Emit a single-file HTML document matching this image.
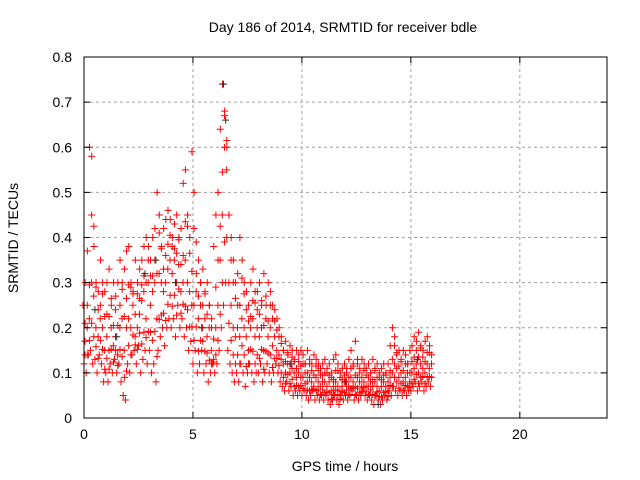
<!DOCTYPE html>
<html><head><meta charset="utf-8"><style>
html,body{margin:0;padding:0;background:#fff;}
svg{display:block;font-family:"Liberation Sans",sans-serif;}
</style></head><body>
<svg id="chart" width="640" height="480" viewBox="0 0 640 480">
<rect x="0" y="0" width="640" height="480" fill="#fff"/>
<text x="343" y="32" font-size="14" text-anchor="middle">Day 186 of 2014, SRMTID for receiver bdle</text>
<text x="345" y="471" font-size="14" text-anchor="middle">GPS time / hours</text>
<text x="18" y="238" font-size="14" text-anchor="middle" transform="rotate(-90 18 238)">SRMTID / TECUs</text>
<g id="grid"></g><g id="marks"></g><g id="axes"></g>
</svg>
<script>
const times=[0.0,0.1,0.2,0.3,0.4,0.5,0.6,0.7,0.8,0.9,1.0,1.1,1.2,1.3,1.4,1.5,1.6,1.7,1.8,1.9,2.0,2.1,2.2,2.3,2.4,2.5,2.6,2.7,2.8,2.9,3.0,3.1,3.2,3.3,3.4,3.5,3.6,3.7,3.8,3.9,4.0,4.1,4.2,4.3,4.4,4.5,4.6,4.7,4.8,4.9,5.0,5.1,5.2,5.3,5.4,5.5,5.6,5.7,5.8,5.9,6.0,6.1,6.2,6.3,6.4,6.5,6.6,6.7,6.8,6.9,7.0,7.1,7.2,7.3,7.4,7.5,7.6,7.7,7.8,7.9,8.0,8.1,8.2,8.3,8.4,8.5,8.6,8.7,8.8,8.9,9.0,9.1,9.2,9.3,9.4,9.5,9.6,9.7,9.8,9.9,10.0,10.1,10.2,10.3,10.4,10.5,10.6,10.7,10.8,10.9,11.0,11.1,11.2,11.3,11.4,11.5,11.6,11.7,11.8,11.9,12.0,12.1,12.2,12.3,12.4,12.5,12.6,12.7,12.8,12.9,13.0,13.1,13.2,13.3,13.4,13.5,13.6,13.7,13.8,13.9,14.0,14.1,14.2,14.3,14.4,14.5,14.6,14.7,14.8,14.9,15.0,15.1,15.2,15.3,15.4,15.5,15.6,15.7,15.8,15.9];
const vHigh=[.25,.3,.37,.6,.58,.38,.3,.28,.35,.3, .28,.3,.33,.25,.3,.27,.3,.35,.3,.33, .37,.38,.3,.28,.35,.3,.33,.35,.38,.4, .38,.35,.4,.42,.5,.45,.38,.42,.44,.46, .44,.4,.43,.45,.4,.42,.52,.55,.45,.4, .59,.5,.32,.35,.3,.33,.28,.3,.25,.22, .38,.45,.5,.64,.74,.68,.6,.45,.4,.35, .3,.32,.4,.35,.3,.28,.25,.3,.33,.28, .28,.3,.26,.32,.25,.3,.28,.25,.24,.22, .2,.18,.15,.17,.14,.16,.15,.13,.15,.14, .15,.14,.12,.15,.13,.12,.14,.13,.12,.11, .12,.13,.11,.12,.1,.13,.14,.12,.1,.11, .12,.11,.13,.15,.12,.17,.12,.11,.13,.12, .11,.12,.1,.13,.11,.12,.1,.11,.12,.1, .12,.16,.2,.18,.14,.15,.13,.15,.14,.12, .15,.16,.18,.17,.19,.16,.15,.17,.18,.16];
const vMid=[.17,.2,.22,.3,.27,.2,.18,.22,.2,.15, .18,.15,.2,.16,.18,.14,.2,.22,.15,.2, .22,.2,.25,.18,.2,.23,.26,.28,.22,.3, .25,.28,.3,.22,.32,.3,.28,.3,.33,.35, .32,.35,.3,.34,.28,.3,.35,.3,.28,.25, .25,.28,.22,.25,.2,.22,.18,.2,.15,.13, .2,.25,.35,.45,.6,.55,.3,.25,.2,.18, .2,.18,.22,.2,.18,.15,.2,.22,.18,.2, .18,.2,.15,.22,.18,.2,.16,.18,.15,.14, .13,.12,.1,.12,.1,.11,.1,.09,.1,.09, .09,.1,.08,.09,.08,.07,.09,.08,.07,.08, .08,.07,.08,.06,.07,.08,.07,.06,.07,.08, .08,.07,.09,.08,.07,.09,.08,.07,.08,.07, .07,.08,.07,.08,.07,.06,.07,.08,.07,.06, .09,.1,.12,.11,.09,.1,.08,.09,.1,.08, .1,.11,.12,.1,.12,.11,.1,.12,.11,.12];
const vLow=[.12,.1,.14,.15,.12,.13,.1,.14,.12,.08, .1,.08,.12,.1,.13,.1,.12,.08,.05,.04, .12,.1,.14,.15,.12,.16,.1,.13,.15,.12, .15,.1,.12,.08,.15,.18,.2,.16,.2,.22, .2,.22,.18,.25,.2,.22,.18,.2,.15,.17, .12,.15,.1,.12,.15,.1,.12,.08,.1,.12, .1,.12,.15,.2,.25,.3,.15,.12,.1,.08, .1,.08,.12,.1,.07,.1,.12,.1,.08,.1, .1,.12,.08,.1,.12,.1,.08,.1,.12,.1, .08,.07,.06,.08,.06,.07,.05,.06,.05,.06, .05,.06,.05,.04,.05,.06,.04,.05,.04,.05, .04,.05,.04,.03,.04,.05,.04,.03,.05,.04, .05,.04,.05,.06,.04,.05,.04,.05,.06,.05, .04,.05,.04,.03,.05,.04,.03,.04,.05,.04, .06,.05,.07,.06,.05,.06,.05,.06,.05,.06, .06,.07,.08,.06,.07,.08,.06,.07,.08,.07];
const blackTimes=[0.5,1.5,2.8,3.3,4.2,5.4,6.4,6.5,9.5,12.0,13.5,15.3];
const blackVals=[.24,.18,.32,.35,.3,.2,.74,.66,.12,.08,.03,.13];
const xTicks=[0,5,10,15,20];
const yTicks=[0,0.1,0.2,0.3,0.4,0.5,0.6,0.7,0.8];
const yTickLabels=["0","0.1","0.2","0.3","0.4","0.5","0.6","0.7","0.8"];

const L=84,R=607,T=57,B=418,XMAX=24,YMAX=0.8;
const xs=v=>L+v/XMAX*(R-L);
const ys=v=>B-v/YMAX*(B-T);
const NS="http://www.w3.org/2000/svg";
function mk(tag,attrs,parent){const e=document.createElementNS(NS,tag);for(const k in attrs)e.setAttribute(k,attrs[k]);parent.appendChild(e);return e;}
const grid=document.getElementById('grid'),marks=document.getElementById('marks'),axes=document.getElementById('axes');

xTicks.forEach(t=>{
  const x=xs(t);
  if(t>0){const g=mk('line',{x1:x,x2:x,y1:T,y2:B,stroke:'#a0a0a0','stroke-dasharray':'3,3'},grid);
  
  }
  mk('line',{x1:x,x2:x,y1:B,y2:B-6,stroke:'#000'},axes);
  mk('line',{x1:x,x2:x,y1:T,y2:T+6,stroke:'#000'},axes);
  const tx=mk('text',{x:x,y:B+21,'font-size':14,'text-anchor':'middle'},axes);
  tx.textContent=String(t);
  
  
});
yTicks.forEach((t,i)=>{
  const y=ys(t);
  if(t>0&&t<YMAX){const g=mk('line',{x1:L,x2:R,y1:y,y2:y,stroke:'#a0a0a0','stroke-dasharray':'3,3'},grid);
  
  }
  mk('line',{x1:L,x2:L+6,y1:y,y2:y,stroke:'#000'},axes);
  mk('line',{x1:R,x2:R-6,y1:y,y2:y,stroke:'#000'},axes);
  const tx=mk('text',{x:L-12,y:y+5,'font-size':14,'text-anchor':'end'},axes);
  tx.textContent=yTickLabels[i];
  
  
});
const frame=mk('rect',{x:L,y:T,width:R-L,height:B-T,fill:'none',stroke:'#000'},axes);



function cross(t,v,color,dx){
  const x=xs(t)+dx,y=ys(v),s=3.5;
  const g=mk('path',{d:`M${x-s},${y}H${x+s}M${x},${y-s}V${y+s}`,stroke:color,'stroke-width':1,fill:'none'},marks);
  
  
}
times.forEach((t,i)=>{
  cross(t,vLow[i],'#ff0000',0);
  cross(t,vMid[i],'#ff0000',1);
  cross(t,vHigh[i],'#ff0000',-1);
  cross(t+0.05,(vLow[i]*0.6+vMid[i]*0.4),'#ff0000',0);
  cross(t+0.05,(vMid[i]*0.5+vHigh[i]*0.5),'#ff0000',0);
});
blackTimes.forEach((t,i)=>cross(t,blackVals[i],'#303030',0));
</script>
</body></html>
